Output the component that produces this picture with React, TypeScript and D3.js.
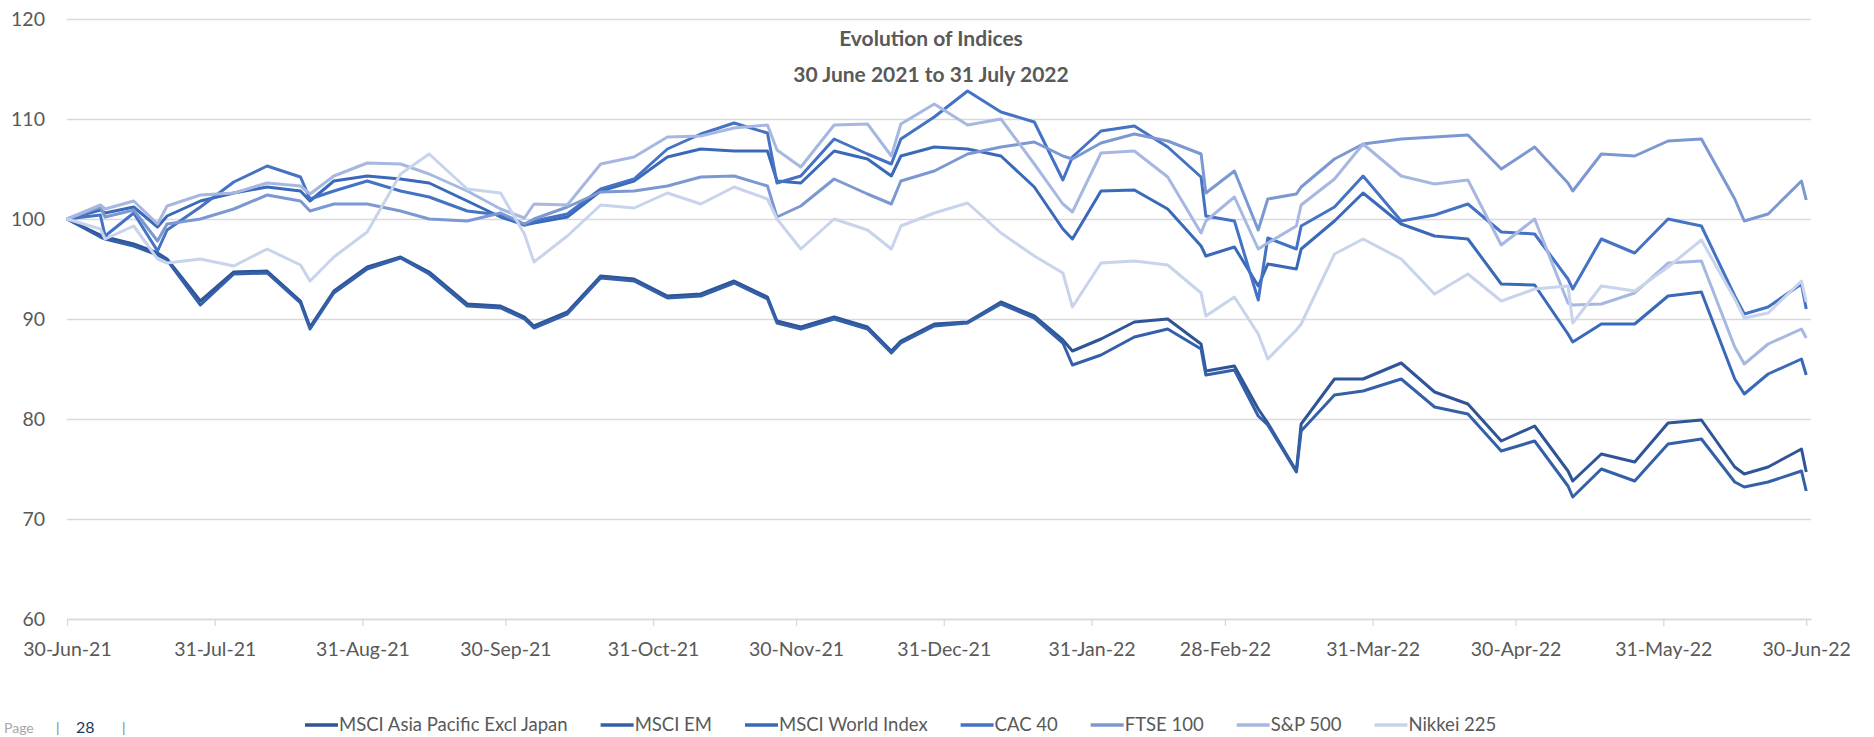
import React, { useEffect, useRef } from 'react';
import * as d3 from 'd3';

// weekly readings, plus a few extra dates where the lines spike
const dates = [
	'2021-06-30', '2021-07-07', '2021-07-08', '2021-07-14', '2021-07-19', '2021-07-21', '2021-07-28', '2021-08-04', '2021-08-11', '2021-08-18', '2021-08-20',
	'2021-08-25', '2021-09-01', '2021-09-08', '2021-09-14', '2021-09-22', '2021-09-29', '2021-10-04', '2021-10-06', '2021-10-13', '2021-10-20', '2021-10-27',
	'2021-11-03', '2021-11-10', '2021-11-17', '2021-11-24', '2021-11-26', '2021-12-01', '2021-12-08', '2021-12-15', '2021-12-20', '2021-12-22', '2021-12-29',
	'2022-01-05', '2022-01-12', '2022-01-19', '2022-01-25', '2022-01-27', '2022-02-02', '2022-02-09', '2022-02-16', '2022-02-23', '2022-02-24', '2022-03-02',
	'2022-03-07', '2022-03-09', '2022-03-15', '2022-03-16', '2022-03-23', '2022-03-29', '2022-04-06', '2022-04-13', '2022-04-20', '2022-04-27', '2022-05-04',
	'2022-05-11', '2022-05-12', '2022-05-18', '2022-05-25', '2022-06-01', '2022-06-08', '2022-06-15', '2022-06-17', '2022-06-22', '2022-06-29', '2022-06-30'
];

const msciAsiaPacific = [
	100, 98.4, 98.2, 97.5, 96.6, 96.0, 91.8, 94.7, 94.8, 91.8, 89.2,
	92.8, 95.2, 96.2, 94.7, 91.5, 91.3, 90.2, 89.3, 90.7, 94.3, 94.0,
	92.3, 92.5, 93.8, 92.2, 89.8, 89.2, 90.2, 89.2, 86.8, 87.8, 89.5,
	89.7, 91.7, 90.3, 87.9, 86.8, 88.0, 89.7, 90.0, 87.5, 84.8, 85.3,
	81.0, 79.6, 74.8, 79.5, 84.0, 84.0, 85.6, 82.7, 81.5, 77.8, 79.3,
	74.8, 73.8, 76.5, 75.7, 79.6, 79.9, 75.2, 74.5, 75.2, 77.0, 74.7
];
const msciEm = [
	100, 98.2, 98.0, 97.3, 96.4, 95.9, 91.4, 94.5, 94.6, 91.6, 89.0,
	92.6, 95.0, 96.1, 94.5, 91.3, 91.1, 90.0, 89.1, 90.5, 94.1, 93.8,
	92.1, 92.3, 93.6, 92.0, 89.6, 89.0, 90.0, 89.0, 86.6, 87.6, 89.3,
	89.6, 91.5, 90.1, 87.6, 85.4, 86.4, 88.2, 89.0, 87.0, 84.4, 84.9,
	80.3, 79.4, 74.7, 78.8, 82.4, 82.8, 84.0, 81.2, 80.5, 76.8, 77.8,
	73.3, 72.2, 75.0, 73.8, 77.5, 78.0, 73.7, 73.2, 73.7, 74.8, 72.8
];
const msciWorld = [
	100, 100.9, 100.6, 101.2, 99.2, 100.3, 101.8, 102.6, 103.2, 102.8, 101.8,
	103.8, 104.3, 104.0, 103.6, 101.8, 100.2, 99.4, 99.6, 100.2, 102.8, 103.8,
	106.2, 107.0, 106.8, 106.8, 103.8, 103.6, 106.8, 106.0, 104.3, 106.3, 107.2,
	107.0, 106.3, 103.2, 99.0, 98.0, 102.8, 102.9, 101.0, 97.3, 96.3, 97.2,
	93.3, 95.5, 95.0, 97.0, 99.8, 102.6, 99.5, 98.3, 98.0, 93.5, 93.4,
	88.5, 87.7, 89.5, 89.5, 92.3, 92.7, 84.0, 82.5, 84.5, 86.0, 84.4
];
const cac40 = [
	100, 100.4, 98.3, 100.6, 96.8, 98.9, 101.2, 103.7, 105.3, 104.2, 102.0,
	102.8, 103.8, 102.8, 102.2, 100.8, 100.4, 99.4, 99.8, 100.5, 103.0, 104.0,
	107.0, 108.5, 109.6, 108.6, 103.6, 104.3, 108.0, 106.5, 105.5, 108.0, 110.2,
	112.8, 110.7, 109.7, 103.9, 106.2, 108.8, 109.3, 107.2, 104.2, 100.3, 99.8,
	91.9, 98.1, 97.0, 99.3, 101.2, 104.3, 99.8, 100.4, 101.5, 98.7, 98.5,
	94.0, 93.0, 98.0, 96.6, 100.0, 99.3, 92.3, 90.5, 91.2, 93.5, 91.0
];
const ftse100 = [
	100, 101.2, 100.2, 100.9, 97.8, 99.5, 100.0, 101.0, 102.4, 101.8, 100.8,
	101.5, 101.5, 100.8, 100.0, 99.8, 100.6, 99.5, 100.0, 101.2, 102.7, 102.8,
	103.3, 104.2, 104.3, 103.3, 100.2, 101.3, 104.0, 102.5, 101.5, 103.8, 104.8,
	106.5, 107.2, 107.7, 106.3, 106.0, 107.6, 108.5, 107.8, 106.5, 102.6, 104.8,
	98.9, 102.0, 102.5, 103.2, 106.0, 107.5, 108.0, 108.2, 108.4, 105.0, 107.2,
	103.6, 102.8, 106.5, 106.3, 107.8, 108.0, 102.0, 99.8, 100.5, 103.8, 101.9
];
const sp500 = [
	100, 101.4, 101.0, 101.8, 99.5, 101.3, 102.4, 102.6, 103.6, 103.3, 102.5,
	104.3, 105.6, 105.5, 104.5, 102.8, 101.0, 100.1, 101.5, 101.4, 105.5, 106.2,
	108.2, 108.3, 109.1, 109.4, 106.9, 105.2, 109.4, 109.5, 106.3, 109.5, 111.5,
	109.4, 110.0, 105.5, 101.5, 100.7, 106.6, 106.8, 104.2, 98.6, 99.8, 102.2,
	97.0, 97.6, 99.3, 101.4, 104.0, 107.5, 104.3, 103.5, 103.9, 97.4, 100.0,
	91.6, 91.4, 91.5, 92.6, 95.6, 95.8, 87.2, 85.5, 87.5, 89.0, 88.1
];
const nikkei225 = [
	100, 99.0, 98.0, 99.3, 96.0, 95.6, 96.0, 95.3, 97.0, 95.4, 93.8,
	96.2, 98.7, 104.5, 106.5, 103.0, 102.6, 98.5, 95.7, 98.3, 101.4, 101.1,
	102.6, 101.5, 103.2, 102.0, 100.0, 97.0, 100.0, 98.9, 97.0, 99.3, 100.6,
	101.6, 98.6, 96.3, 94.6, 91.2, 95.6, 95.8, 95.4, 92.6, 90.3, 92.2,
	88.5, 86.0, 88.9, 89.5, 96.5, 98.0, 96.0, 92.5, 94.5, 91.8, 93.0,
	93.3, 89.6, 93.3, 92.8, 95.2, 97.9, 92.0, 90.1, 90.6, 93.8, 91.7
];

const seriesNames = ['MSCI Asia Pacific Excl Japan', 'MSCI EM', 'MSCI World Index', 'CAC 40', 'FTSE 100', 'S&P 500', 'Nikkei 225'];
const seriesValues = [msciAsiaPacific, msciEm, msciWorld, cac40, ftse100, sp500, nikkei225];
const seriesColors = ['#2F5597', '#3460AA', '#3A69B9', '#4472C4', '#7C98D3', '#A6B8E1', '#C8D3EC'];

const yTicks = [60, 70, 80, 90, 100, 110, 120];
const xTickDates = ['2021-06-30', '2021-07-31', '2021-08-31', '2021-09-30', '2021-10-31', '2021-11-30', '2021-12-31',
	'2022-01-31', '2022-02-28', '2022-03-31', '2022-04-30', '2022-05-31', '2022-06-30'];
const xTickLabels = ['30-Jun-21', '31-Jul-21', '31-Aug-21', '30-Sep-21', '31-Oct-21', '30-Nov-21', '31-Dec-21',
	'31-Jan-22', '28-Feb-22', '31-Mar-22', '30-Apr-22', '31-May-22', '30-Jun-22'];
const titleLines = ['Evolution of Indices', '30 June 2021 to 31 July 2022'];

const drawChart = (el) => {
	const svg = d3.select(el);
	svg.selectAll('*').remove();

	const font = 'Lato, "Open Sans", sans-serif';
	const grey = '#595959';
	const gridColor = '#D9D9D9';
	const left = 67;
	const right = 1811;
	const top = 19;
	const bottom = 619;
	const parse = d3.timeParse('%Y-%m-%d');
	const days = dates.map(parse);

	const x = d3.scaleTime()
		.domain([parse('2021-06-30'), parse('2022-07-01')])
		.range([left, right]);
	const y = d3.scaleLinear().domain([60, 120])
		.range([bottom, top]);

	// gridlines and y labels
	const yAxis = svg.append('g').attr('transform', `translate(${ left },0)`)
		.call(d3.axisLeft(y).tickValues(yTicks)
			.tickSize(-(right - left))
			.tickPadding(22));
	yAxis.select('.domain').remove();
	yAxis.selectAll('line').attr('stroke', gridColor)
		.attr('stroke-width', 1.3);
	yAxis.selectAll('text').attr('fill', grey)
		.style('font-family', font)
		.style('font-size', '19.5px');

	const xAxis = svg.append('g').attr('transform', `translate(0,${ bottom })`)
		.call(d3.axisBottom(x).tickValues(xTickDates.map(parse))
			.tickFormat((d, i) => xTickLabels[i])
			.tickSize(7)
			.tickSizeOuter(0)
			.tickPadding(16));
	xAxis.select('.domain').attr('stroke', gridColor)
		.attr('stroke-width', 1.3);
	xAxis.selectAll('line').attr('stroke', gridColor)
		.attr('stroke-width', 1.3);
	xAxis.selectAll('text').attr('fill', grey)
		.style('font-family', font)
		.style('font-size', '19.5px');

	const line = d3.line()
		.x((d, i) => x(days[i]))
		.y((d) => y(d));

	svg.append('g').selectAll('path')
		.data(seriesValues)
		.enter()
		.append('path')
		.attr('d', (d) => line(d))
		.attr('fill', 'none')
		.attr('stroke', (d, i) => seriesColors[i])
		.attr('stroke-width', 3)
		.attr('stroke-linejoin', 'round');

	svg.append('g').selectAll('text')
		.data(titleLines)
		.enter()
		.append('text')
		.attr('x', 931)
		.attr('y', (d, i) => 46 + i * 36)
		.attr('text-anchor', 'middle')
		.attr('fill', grey)
		.style('font-family', font)
		.style('font-size', '21px')
		.style('font-weight', 'bold')
		.text((d) => d);

	// legend, laid out from measured text widths
	const legend = svg.append('g');
	let cursor = 305;
	seriesNames.forEach((name, i) => {
		legend.append('line')
			.attr('x1', cursor)
			.attr('x2', cursor + 33)
			.attr('y1', 725)
			.attr('y2', 725)
			.attr('stroke', seriesColors[i])
			.attr('stroke-width', 3.5);
		const label = legend.append('text')
			.attr('x', cursor + 34)
			.attr('y', 731)
			.attr('fill', grey)
			.style('font-family', font)
			.style('font-size', '18.5px')
			.text(name);
		cursor += 34 + label.node().getComputedTextLength() + 33;
	});

	// page footer in the bottom-left corner
	const footer = svg.append('g').style('font-family', font)
		.style('font-size', '14px');
	footer.append('text').attr('x', 4)
		.attr('y', 733)
		.attr('fill', '#A6A6A6')
		.text('Page');
	footer.append('text').attr('x', 56)
		.attr('y', 733)
		.attr('fill', '#7F7F7F')
		.text('|');
	footer.append('text').attr('x', 76)
		.attr('y', 733)
		.attr('fill', '#1F3864')
		.style('font-size', '16px')
		.text('28');
	footer.append('text').attr('x', 122)
		.attr('y', 733)
		.attr('fill', '#7F7F7F')
		.text('|');
};

const App = () => {
	const ref = useRef(null);

	useEffect(() => drawChart(ref.current), []);

	return (
		<svg ref={ ref } width={ 1874 } height={ 737 }
			style={ { position: 'absolute', left: 0, top: 0, background: '#fff' } }/>
	);
};

export default App;
